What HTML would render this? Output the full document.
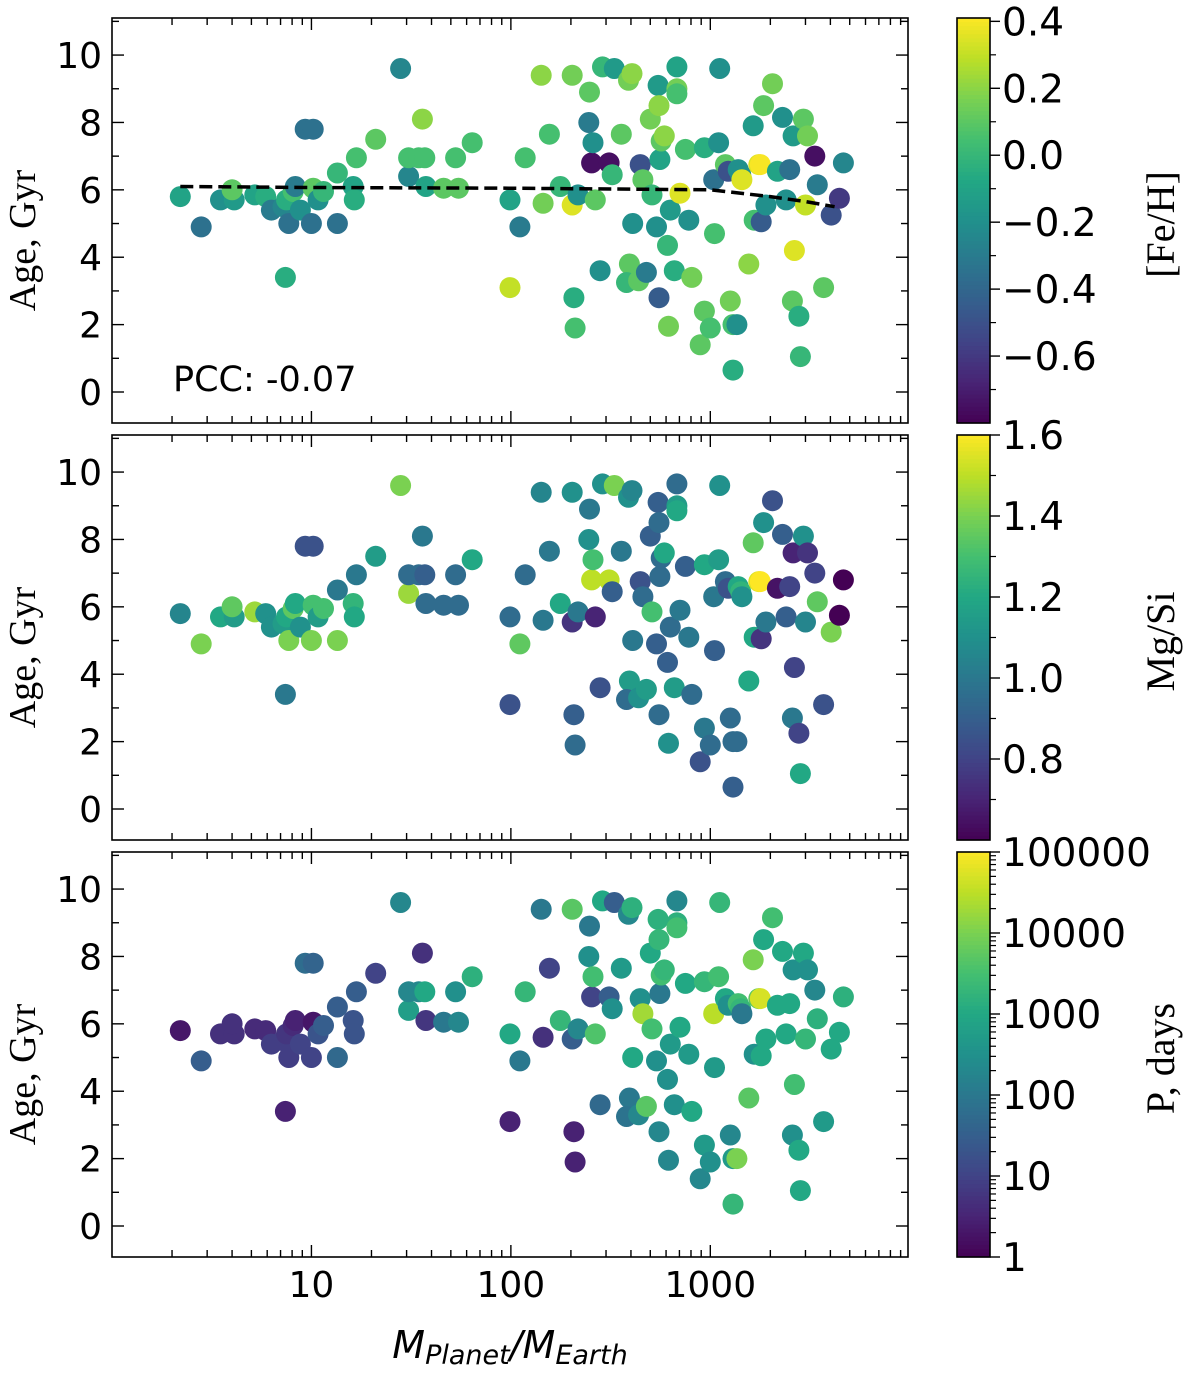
<!DOCTYPE html>
<html><head><meta charset="utf-8"><style>
body{margin:0;background:#fff}
svg text{font-family:"DejaVu Sans","Liberation Sans",sans-serif;fill:#000}
</style></head><body>
<svg id="chart" width="1200" height="1371" viewBox="0 0 1200 1371" xmlns="http://www.w3.org/2000/svg"></svg>
<script>
const mass=[2.2,2.8,3.5,4.1,4.0,5.2,5.9,6.3,7.2,7.5,7.7,7.4,8.1,8.3,8.8,9.3,10.2,10,10.2,10.8,11.5,13.5,13.5,16.2,16.4,16.8,21,28,30.7,30.7,34.5,36,37,37.5,46,54.6,52.8,64,99,99,111,118,142,145,156,177,203,203,207,210,217,246,248,254,311,258,265,280,288,330,322,358,389,405,393,380,408,437,445,459,478,500,510,537,547,553,553,559,567,588,617,610,630,660,680,680,680,705,750,780,808,890,934,934,1000,1040,1050,1100,1115,1190,1230,1260,1300,1300,1360,1380,1420,1440,1560,1640,1660,1750,1800,1780,1850,1900,2050,2170,2300,2400,2500,2580,2600,2640,2780,2830,2930,3000,3070,3340,3440,3700,4040,4440,4650];
const age=[5.8,4.9,5.7,5.7,6.0,5.85,5.8,5.4,5.5,5.7,5.0,3.4,5.95,6.1,5.4,7.8,7.8,5.0,6.05,5.7,5.95,5.0,6.5,6.1,5.7,6.95,7.5,9.6,6.4,6.95,6.95,8.1,6.95,6.1,6.05,6.05,6.95,7.4,5.7,3.1,4.9,6.95,9.4,5.6,7.65,6.1,9.4,5.55,2.8,1.9,5.85,8.0,8.9,6.8,6.8,7.4,5.7,3.6,9.65,9.6,6.45,7.65,9.25,9.45,3.8,3.25,5.0,3.3,6.75,6.3,3.55,8.1,5.85,4.9,9.1,8.5,2.8,6.9,7.45,7.6,1.95,4.35,5.4,3.6,9.65,9.0,8.85,5.9,7.2,5.1,3.4,1.4,7.25,2.4,1.9,6.3,4.7,7.4,9.6,6.75,6.55,2.7,2.0,0.65,2.0,6.6,6.45,6.3,3.8,7.9,5.1,6.75,5.05,6.75,8.5,5.55,9.15,6.55,8.15,5.7,6.6,2.7,7.6,4.2,2.25,1.05,8.1,5.55,7.6,7.0,6.15,3.1,5.25,5.75,6.8];
const feh=[-0.1,-0.35,-0.2,-0.15,0.1,-0.1,-0.05,-0.3,-0.25,-0.05,-0.35,-0.05,0.05,-0.3,-0.2,-0.35,-0.35,-0.35,0.1,-0.2,0.0,-0.35,0.0,-0.1,-0.05,0.05,0.1,-0.25,-0.25,0.05,0.05,0.2,0.05,-0.1,0.1,0.1,0.05,0.05,-0.1,0.3,-0.3,0.05,0.2,0.15,0.05,0.0,0.15,0.35,-0.05,0.05,-0.2,-0.3,0.1,-0.75,-0.75,-0.2,0.1,-0.2,0.0,-0.15,0.0,0.1,0.15,0.2,0.1,0.0,-0.2,0.1,-0.5,0.1,-0.3,0.15,0.0,-0.2,-0.15,0.2,-0.45,-0.1,0.1,0.2,0.15,0.0,-0.15,-0.05,-0.1,0.15,0.05,0.35,0.05,-0.2,0.15,0.1,-0.05,0.1,0.05,-0.35,0.05,-0.2,-0.2,0.1,-0.5,0.15,0.05,-0.05,-0.2,-0.2,-0.2,0.35,0.2,-0.15,0.05,0.35,-0.45,0.4,0.1,-0.2,0.15,-0.1,-0.2,-0.2,-0.35,0.1,-0.15,0.35,-0.05,0.0,0.1,0.3,0.15,-0.75,-0.3,0.1,-0.5,-0.6,-0.25];
const mgsi=[1.05,1.4,1.2,1.15,1.35,1.45,1.1,1.1,1.15,1.2,1.4,1.0,1.35,1.2,1.1,0.85,0.85,1.4,1.3,1.15,1.3,1.4,1.0,1.25,1.2,1.0,1.15,1.4,1.45,0.95,0.95,1.0,0.9,0.95,0.95,0.95,0.95,1.2,0.95,0.85,1.35,0.95,1.05,1.0,1.0,1.2,1.1,0.75,0.9,0.95,1.0,1.1,1.0,1.5,1.5,1.3,0.7,0.85,1.1,1.4,0.9,1.0,1.1,1.05,1.15,0.95,1.0,1.1,0.85,0.95,1.15,0.9,1.3,0.9,0.9,0.95,0.95,0.95,0.95,1.2,1.1,0.9,0.95,1.15,0.95,1.15,1.2,1.0,0.9,1.0,0.95,0.85,1.2,1.0,0.95,1.0,0.9,1.15,1.1,0.95,0.85,0.95,0.95,0.9,0.95,1.2,1.25,1.1,1.2,1.35,1.2,1.55,0.75,1.6,1.1,1.0,0.85,0.65,0.9,0.9,0.8,1.0,0.7,0.8,0.8,1.2,1.1,1.05,0.75,0.8,1.35,0.85,1.4,0.6,0.6];
const period=[2,30,5,5,5,4,4,8,8,6,8,3,4,3,10,60,40,10,2,20,30,50,30,20,20,30,10,200,600,200,200,5,1000,6,100,200,300,1500,1000,3,100,2000,100,5,10,2000,5000,30,3,3,200,300,100,10,30,3000,4000,50,1000,30,300,500,200,1500,100,80,1000,200,300,20000,5000,1000,3000,300,1500,2000,200,100,3000,2000,200,300,500,300,200,1500,3000,1000,1000,500,1000,200,2000,500,300,30000,500,3000,2000,1000,300,200,500,2000,10000,3000,2000,100,5000,10000,300,5000,1000,50000,1000,1000,3000,1000,1000,1000,1000,300,300,3000,1000,1000,1000,2000,300,200,1500,500,1000,1000,1500];
const trendMass=[2.2,10,100,1000,2000,3000,4200];
const trendAge=[6.1,6.07,6.05,6.0,5.8,5.65,5.5];
const xTickVals=[10,100,1000];
const xTickLabels=["10","100","1000"];
const yTickVals=[0,2,4,6,8,10];
const cb1Ticks=[0.4,0.2,0.0,-0.2,-0.4,-0.6];
const cb1Labels=["0.4","0.2","0.0","\u22120.2","\u22120.4","\u22120.6"];
const cb2Ticks=[1.6,1.4,1.2,1.0,0.8];
const cb2Labels=["1.6","1.4","1.2","1.0","0.8"];
const cb3Ticks=[1,10,100,1000,10000,100000];
const cb3Labels=["1","10","100","1000","10000","100000"];

const NS="http://www.w3.org/2000/svg";
const svg=document.getElementById('chart');
function mk(tag,attrs,parent){const e=document.createElementNS(NS,tag);for(const k in attrs)e.setAttribute(k,attrs[k]);(parent||svg).appendChild(e);return e;}
const VIR=[[68,1,84],[72,36,117],[65,68,135],[53,95,141],[42,120,142],[33,145,140],[34,168,132],[68,191,112],[122,209,81],[189,223,38],[253,231,37]];
function viridis(t){t=Math.max(0,Math.min(1,t));const s=t*(VIR.length-1);const i=Math.min(VIR.length-2,Math.floor(s));const f=s-i;const a=VIR[i],b=VIR[i+1];return `rgb(${Math.round(a[0]+(b[0]-a[0])*f)},${Math.round(a[1]+(b[1]-a[1])*f)},${Math.round(a[2]+(b[2]-a[2])*f)})`;}

const PX0=112,PX1=908,PH=405;
const panelTops=[18,435,852];
const XMIN=Math.log10(1.0),XMAX=Math.log10(9800);
const YMIN=-0.92,YMAX=11.1;
function xs(m){return PX0+(Math.log10(m)-XMIN)/(XMAX-XMIN)*(PX1-PX0);}
function ys(a,top){return top+(YMAX-a)/(YMAX-YMIN)*PH;}
const CBX0=957,CBX1=990;
const cbs=[
 {vals:feh,min:-0.8,max:0.41,log:false,ticks:cb1Ticks,labels:cb1Labels,minor:[0.3,0.1,-0.1,-0.3,-0.5,-0.7],title:"[Fe/H]",name:"feh"},
 {vals:mgsi,min:0.6,max:1.6,log:false,ticks:cb2Ticks,labels:cb2Labels,minor:[1.5,1.3,1.1,0.9,0.7],title:"Mg/Si",name:"mgsi"},
 {vals:period,min:0,max:5.0,log:true,ticks:cb3Ticks,labels:cb3Labels,minor:[],title:"P, days",name:"period"}
];
function norm(cb,v){const u=cb.log?Math.log10(v):v;return (u-cb.min)/(cb.max-cb.min);}
const SERIF='font-family:"Liberation Serif","DejaVu Serif",serif';

panelTops.forEach((top,pi)=>{
 const cb=cbs[pi];
 const g=mk('g',{});
 
 
 for(let i=0;i<mass.length;i++){
  const c=mk('circle',{cx:xs(mass[i]).toFixed(1),cy:ys(age[i],top).toFixed(1),r:10.5,fill:viridis(norm(cb,cb.vals[i]))},g);
  
  
 }
 if(pi===0){
  const d=trendMass.map((m,i)=>(i?'L':'M')+xs(m).toFixed(1)+','+ys(trendAge[i],top).toFixed(1)).join(' ');
  const p=mk('path',{d:d,fill:'none',stroke:'#000','stroke-width':3.5,'stroke-dasharray':'13,6'},g);
  
  
  const t=mk('text',{x:173,y:391,'font-size':35},g);t.textContent='PCC: -0.07';
  
  
 }
 const fr=mk('rect',{x:PX0,y:top,width:PX1-PX0,height:PH,fill:'none',stroke:'#000','stroke-width':1.6},g);
 
 
 for(let a=0;a<=11;a++){
  const y=ys(a,top);const L=(a%2===0)?12:7;
  mk('line',{x1:PX0,x2:PX0+L,y1:y,y2:y,stroke:'#000','stroke-width':1.4},g);
  mk('line',{x1:PX1,x2:PX1-L,y1:y,y2:y,stroke:'#000','stroke-width':1.4},g);
 }
 yTickVals.forEach(a=>{const t=mk('text',{x:102,y:ys(a,top)+13,'font-size':36,'text-anchor':'end'},g);t.textContent=String(a);
  
  });
 for(let dec=0;dec<4;dec++){for(let k=1;k<10;k++){const m=k*Math.pow(10,dec);const x=xs(m);if(x<PX0+1||x>PX1-1)continue;const L=k===1?12:7;
  mk('line',{x1:x,x2:x,y1:top+PH,y2:top+PH-L,stroke:'#000','stroke-width':1.4},g);
  mk('line',{x1:x,x2:x,y1:top,y2:top+L,stroke:'#000','stroke-width':1.4},g);}}
 if(pi===2){xTickVals.forEach((v,i)=>{const t=mk('text',{x:xs(v),y:top+PH+40,'font-size':36,'text-anchor':'middle'},g);t.textContent=xTickLabels[i];
  
  });}
 const yl=mk('text',{x:0,y:0,'font-size':38,'text-anchor':'middle',transform:`translate(35,${top+PH/2+20}) rotate(-90)`,style:SERIF},g);yl.textContent='Age, Gyr';
 
 
 const cg=mk('g',{});
 
 
 const N=100;
 for(let s=0;s<N;s++){mk('rect',{x:CBX0,y:top+PH*s/N,width:CBX1-CBX0,height:PH/N+0.6,fill:viridis(1-(s+0.5)/N)},cg);}
 mk('rect',{x:CBX0,y:top,width:CBX1-CBX0,height:PH,fill:'none',stroke:'#000','stroke-width':1.6},cg);
 function cby(v){return top+(1-norm(cb,v))*PH;}
 cb.ticks.forEach((v,i)=>{const y=cby(v);mk('line',{x1:CBX1,x2:CBX1+10,y1:y,y2:y,stroke:'#000','stroke-width':1.4},cg);
  const t=mk('text',{x:CBX1+12,y:y+14,'font-size':39},cg);t.textContent=cb.labels[i];
  
  });
 let minors=cb.minor.slice();
 if(cb.log){for(let d=0;d<5;d++)for(let k=2;k<10;k++)minors.push(k*Math.pow(10,d));}
 minors.forEach(v=>{const y=cby(v);mk('line',{x1:CBX1,x2:CBX1+6,y1:y,y2:y,stroke:'#000','stroke-width':1.2},cg);});
 const ct=mk('text',{x:0,y:0,'font-size':40,'text-anchor':'middle',transform:`translate(1174,${top+PH/2+4}) rotate(-90)`,style:SERIF},cg);ct.textContent=cb.title;
 
 
});
const xt=mk('text',{x:510,y:1358,'font-size':38,'text-anchor':'middle','font-style':'italic'});
xt.innerHTML='M<tspan font-size="27" dy="6">Planet</tspan><tspan dy="-6">/M</tspan><tspan font-size="27" dy="6">Earth</tspan>';


</script>
</body></html>
